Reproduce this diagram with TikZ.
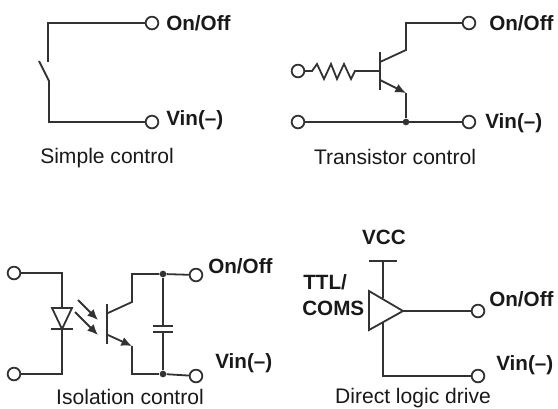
\documentclass[tikz,border=0pt]{standalone}
\usepackage{fontspec}
\setmainfont{Liberation Sans}
\usetikzlibrary{arrows.meta}
\definecolor{corlinha}{RGB}{50,50,50}
\definecolor{cortexto}{RGB}{25,25,25}
\tikzset{
  fio/.style={draw=corlinha, line width=1.35pt},
  seta/.style={fio, -{Latex[length=8pt,width=7pt]}},
  terminal/.style={circle, draw=corlinha, line width=1.35pt, fill=white, inner sep=0pt, minimum size=9.5pt},
  ponto/.style={circle, fill=corlinha, inner sep=0pt, minimum size=5pt},
  rotulo/.style={anchor=west, inner sep=0pt, text=cortexto, font=\fontsize{15.5}{18}\selectfont\bfseries},
  legenda/.style={inner sep=0pt, text=cortexto, font=\fontsize{15.8}{18}\selectfont}
}
\begin{document}
\begin{tikzpicture}[x=0.75pt, y=-0.75pt]
  \useasboundingbox (0,0) rectangle (558,408);

  % simple control
  \node [terminal] (sOn) at (152,23) {};
  \node [terminal] (sVin) at (152,122) {};
  \coordinate (sTop) at (48,62);
  \coordinate (sBot) at (49,81);
  \coordinate (sLever) at (39,61);
  \draw [fio] (sOn) -| (sTop);
  \draw [fio] (sLever) -- (sBot) -- (sBot |- sVin) -- (sVin);
  \node [rotulo] (sOnTxt) at (166,23) {On/Off};
  \node [rotulo] (sVinTxt) at (166,120) {Vin(--)};
  \node [legenda] (sCap) at (107,158.5) {Simple control};

  % transistor control
  \node [terminal] (tOn) at (469,23) {};
  \node [terminal] (tVin) at (469,122) {};
  \node [terminal] (tBase) at (298,71) {};
  \node [terminal] (tGnd) at (298,122) {};
  \node [ponto] (tDot) at (406,122) {};
  \coordinate (tBarA) at (380,52);
  \coordinate (tBarB) at (380,90);
  \coordinate (tBarC) at (380,71);
  \coordinate (tCol) at (406,50);
  \coordinate (tColB) at (380,62);
  \coordinate (tEmiB) at (380,80);
  \coordinate (tEmi) at (406,93);
  \draw [fio] (tBarA) -- (tBarB);
  \draw [fio] (tOn) -| (tCol) -- (tColB);
  \draw [fio] (tBase) -- (312,71) -- (317,64) -- (324,79) -- (331,64) -- (337,79) -- (344,64) -- (351,79) -- (355,71) -- (tBarC);
  \draw [seta] (tEmiB) -- (tEmi);
  \draw [fio] (tEmi) -- (tDot);
  \draw [fio] (tGnd) -- (tVin);
  \node [rotulo] (tOnTxt) at (489,23) {On/Off};
  \node [rotulo] (tVinTxt) at (485,123) {Vin(--)};
  \node [legenda] (tCap) at (395,157) {Transistor control};

  % isolation control
  \node [terminal] (iIn) at (14,273) {};
  \node [terminal] (iRet) at (14,374) {};
  \node [terminal] (iOn) at (196,275) {};
  \node [terminal] (iVin) at (196,376) {};
  \node [ponto] (iDotA) at (163,274) {};
  \node [ponto] (iDotB) at (163,374) {};
  \coordinate (iAnode) at (62,308);
  \coordinate (iCathode) at (62,329);
  \draw [fio] (iIn) -| (iAnode);
  \draw [fio] (iRet) -| (iCathode);
  \draw [fio] (52,308) -- (72,308) -- (iCathode) -- cycle;
  \draw [fio] (51,329) -- (73,329);
  \draw [seta] (78,300) -- (98,320);
  \draw [seta] (75,312) -- (98,335);
  \coordinate (iCol) at (132,302);
  \coordinate (iEmi) at (132,346);
  \draw [fio] (107,304) -- (107,344);
  \draw [fio] (108,313) -- (iCol) |- (iDotA);
  \draw [seta] (108,335) -- (iEmi);
  \draw [fio] (iEmi) |- (iDotB);
  \draw [fio] (iDotA) -- (iOn);
  \draw [fio] (iDotB) -- (iVin);
  \coordinate (iCapA) at (163,326);
  \coordinate (iCapB) at (163,332);
  \draw [fio] (iDotA) -- (iCapA);
  \draw [fio] (iCapB) -- (iDotB);
  \draw [fio] (153,326) -- (173,326);
  \draw [fio] (153,332) -- (173,332);
  \node [rotulo] (iOnTxt) at (208,266) {On/Off};
  \node [rotulo] (iVinTxt) at (215,363) {Vin(--)};
  \node [legenda] (iCap) at (130,397) {Isolation control};

  % direct logic drive
  \node [terminal] (dOn) at (478,311) {};
  \node [terminal] (dVin) at (478,376) {};
  \coordinate (dTipo) at (403,311);
  \coordinate (dVcc) at (383,261);
  \coordinate (dSup) at (383,298);
  \coordinate (dInf) at (383,323);
  \draw [fio] (369,261) -- (397,261);
  \draw [fio] (dVcc) -- (dSup);
  \draw [fio] (369,291) -- (dTipo) -- (369,330) -- cycle;
  \draw [fio] (dTipo) -- (dOn);
  \draw [fio] (dInf) |- (dVin);
  \node [rotulo, anchor=center] (dVccTxt) at (384,237) {VCC};
  \node [rotulo] (dTtlTxt) at (303,282) {TTL/};
  \node [rotulo] (dComsTxt) at (302,308) {COMS};
  \node [rotulo] (dOnTxt) at (489,299) {On/Off};
  \node [rotulo] (dVinTxt) at (496,365) {Vin(--)};
  \node [legenda] (dCap) at (413,398.5) {Direct logic drive};
\end{tikzpicture}
\end{document}
